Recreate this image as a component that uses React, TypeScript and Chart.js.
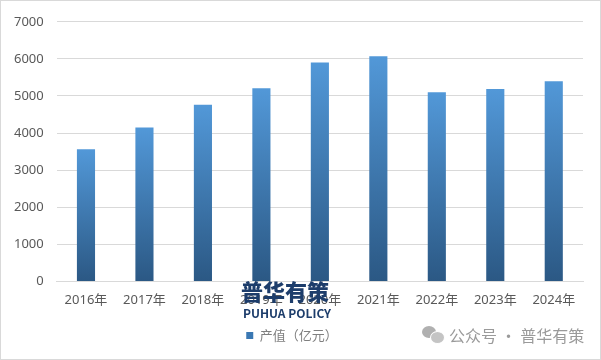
import React, { useEffect, useRef } from "react";
import { Chart, registerables } from "chart.js";
Chart.register(...registerables);

const categories = ["2016年", "2017年", "2018年", "2019年", "2020年", "2021年", "2022年", "2023年", "2024年"];
const values = [3560, 4150, 4760, 5210, 5900, 6070, 5100, 5190, 5400];
const seriesName = "产值（亿元）";
const yMax = 7000;
const yStep = 1000;

const FONT = "'Noto Sans CJK SC', 'Noto Sans', sans-serif";
const TICK_FONT = "'Noto Sans', 'Noto Sans CJK SC', sans-serif";

export default function App() {
  const ref = useRef<HTMLCanvasElement>(null);
  useEffect(() => {
    const canvas = ref.current!;
    const chart = new Chart(canvas, {
      type: "bar",
      data: {
        labels: categories,
        datasets: [
          {
            label: seriesName,
            data: values,
            backgroundColor: (ctx: any) => {
              const c = ctx.chart;
              const y = c.scales && c.scales.y;
              if (!y || ctx.type !== "data") return "#3d7ab5";
              const top = y.getPixelForValue(ctx.raw);
              const bottom = y.getPixelForValue(0);
              if (!isFinite(top) || !isFinite(bottom) || top === bottom) return "#3d7ab5";
              const g = c.ctx.createLinearGradient(0, top, 0, bottom);
              g.addColorStop(0, "#5298d8");
              g.addColorStop(1, "#2b5884");
              return g;
            },
            borderWidth: 0,
            barPercentage: 0.31,
            categoryPercentage: 1,
          },
        ],
      },
      options: {
        responsive: false,
        animation: false,
        layout: { padding: { left: 0, right: 17, top: -1, bottom: 7 } },
        plugins: {
          legend: {
            display: true,
            position: "bottom",
            labels: {
              color: "#7f7f7f",
              font: { family: FONT, size: 13 },
              boxWidth: 7,
              boxHeight: 7,
              padding: 18,
              generateLabels: () => [
                {
                  text: seriesName,
                  fillStyle: "#3a78b3",
                  strokeStyle: "#3a78b3",
                  lineWidth: 0,
                  fontColor: "#7f7f7f",
                  datasetIndex: 0,
                } as any,
              ],
            },
          },
          tooltip: { enabled: false },
        },
        scales: {
          x: {
            grid: { display: false },
            border: { display: true, color: "#d9d9d9" },
            ticks: { color: "#595959", font: { family: TICK_FONT, size: 13 }, padding: 3 },
          },
          y: {
            min: 0,
            max: yMax,
            grid: { color: "#d9d9d9", drawTicks: false },
            border: { display: false },
            ticks: {
              stepSize: yStep,
              color: "#595959",
              font: { family: TICK_FONT, size: 13 },
              padding: 13,
              callback: (v: any) => String(v),
            },
          },
        },
      },
    });
    return () => chart.destroy();
  }, []);

  return (
    <div
      style={{
        position: "absolute",
        left: 0,
        top: 0,
        width: 601,
        height: 360,
        background: "#fff",
        boxSizing: "border-box",
        border: "1px solid #d9d9d9",
        overflow: "hidden",
      }}
    >
      <canvas ref={ref} width={599} height={358} style={{ position: "absolute", left: 0, top: 0 }} />
      <div
        style={{
          position: "absolute",
          left: 240,
          top: 276,
          fontFamily: FONT,
          fontWeight: 900,
          fontSize: 22,
          color: "#1d3d6b",
          lineHeight: "26px",
        }}
      >
        普华有策
      </div>
      <div
        style={{
          position: "absolute",
          left: 242,
          top: 305,
          fontFamily: FONT,
          fontWeight: 700,
          fontSize: 12,
          color: "#1d3d6b",
          lineHeight: "14px",
        }}
      >
        PUHUA POLICY
      </div>
      <div style={{ position: "absolute", left: 421, top: 325, width: 24, height: 18 }}>
        <div style={{ position: "absolute", left: 0, top: 0, width: 14, height: 12, borderRadius: "50%", background: "#b0b0b0" }} />
        <div style={{ position: "absolute", left: 8, top: 5, width: 13, height: 11, borderRadius: "50%", background: "#c4c4c4", border: "1px solid #fff" }} />
      </div>
      <div
        style={{
          position: "absolute",
          left: 448,
          top: 323,
          fontFamily: FONT,
          fontSize: 16,
          color: "#9a9a9a",
          lineHeight: "22px",
          whiteSpace: "nowrap",
        }}
      >
        公众号 · 普华有策
      </div>
    </div>
  );
}
